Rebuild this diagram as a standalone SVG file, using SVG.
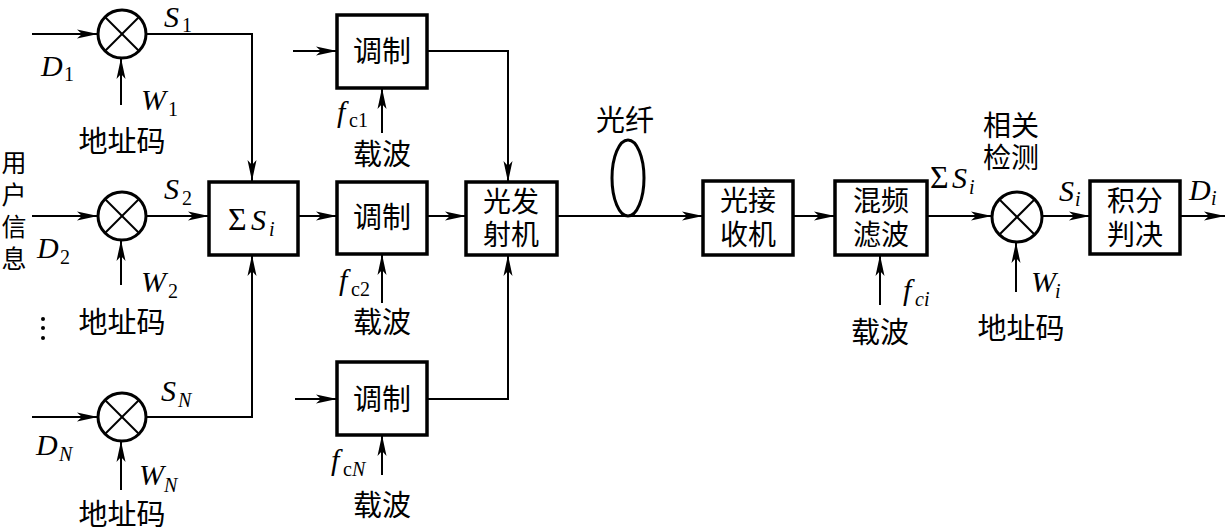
<svg xmlns="http://www.w3.org/2000/svg" width="1226" height="531" viewBox="0 0 1226 531">
<style>
.box{fill:#fff;stroke:#000;stroke-width:3.5}
.mul{fill:#fff;stroke:#000;stroke-width:3}
.x{stroke:#000;stroke-width:2}
.ar{fill:none;stroke:#000;stroke-width:2;marker-end:url(#ah)}
.cn{font-family:"Noto Sans CJK SC","Noto Sans",sans-serif;font-size:29px;fill:#000;text-anchor:middle}
.c2{font-family:"Noto Sans CJK SC","Noto Sans",sans-serif;font-size:28px;fill:#000;text-anchor:middle}
.it{font-family:"Liberation Serif",serif;font-style:italic;font-size:30px;fill:#000}
.sb{font-family:"Liberation Serif",serif;font-size:20px;fill:#000}
.si{font-family:"Liberation Serif",serif;font-style:italic;font-size:20px;fill:#000}
.sg{font-family:"Liberation Serif",serif;font-size:32px;fill:#000}
</style>
<defs>
<marker id="ah" markerUnits="userSpaceOnUse" markerWidth="22" markerHeight="10" viewBox="0 -5 22 10" refX="21" refY="0" orient="auto">
<path d="M0,-4.5 L21,0 L0,4.5 L5,0 z" fill="#000"/>
</marker>
</defs>

<g id="connectors">
<line class="ar" x1="32" y1="34" x2="98" y2="34"/>
<polyline class="ar" points="146,34 252,34 252,181"/>
<line class="ar" x1="121" y1="105" x2="121" y2="58"/>
<line class="ar" x1="32" y1="216" x2="98" y2="216"/>
<line class="ar" x1="146" y1="216" x2="209" y2="216"/>
<line class="ar" x1="121" y1="285" x2="121" y2="240"/>
<line class="ar" x1="32" y1="417" x2="98" y2="417"/>
<polyline class="ar" points="146,417 252,417 252,255"/>
<line class="ar" x1="121" y1="490" x2="121" y2="441"/>
<line class="ar" x1="293" y1="51" x2="337" y2="51"/>
<polyline class="ar" points="427,51 508,51 508,182"/>
<line class="ar" x1="382" y1="133" x2="382" y2="88"/>
<line class="ar" x1="298" y1="216" x2="337" y2="216"/>
<line class="ar" x1="427" y1="216" x2="466" y2="216"/>
<line class="ar" x1="382" y1="303" x2="382" y2="254"/>
<line class="ar" x1="295" y1="399" x2="337" y2="399"/>
<polyline class="ar" points="427,399 508,399 508,255"/>
<line class="ar" x1="382" y1="475" x2="382" y2="435"/>
<line class="ar" x1="557" y1="216" x2="703" y2="216"/>
<line class="ar" x1="793" y1="216" x2="835" y2="216"/>
<line class="ar" x1="880" y1="305" x2="880" y2="255"/>
<line class="ar" x1="927" y1="216" x2="992" y2="216"/>
<line class="ar" x1="1016" y1="292" x2="1016" y2="242"/>
<line class="ar" x1="1042" y1="216" x2="1090" y2="216"/>
<line class="ar" x1="1180" y1="216" x2="1225" y2="216"/>
</g>

<g id="mult1">
<circle class="mul" cx="122" cy="34" r="24"/>
<line class="x" x1="105" y1="17" x2="139" y2="51"/><line class="x" x1="139" y1="17" x2="105" y2="51"/>
<text class="it" x="41" y="76">D</text><text class="sb" x="64" y="81">1</text>
<text class="it" x="164" y="27">S</text><text class="sb" x="182" y="32">1</text>
<text class="it" x="141" y="110">W</text><text class="sb" x="168" y="116">1</text>
<text class="cn" x="122" y="152">地址码</text>
</g>

<g id="mult2">
<circle class="mul" cx="122" cy="216" r="24"/>
<line class="x" x1="105" y1="199" x2="139" y2="233"/><line class="x" x1="139" y1="199" x2="105" y2="233"/>
<text class="it" x="37" y="258">D</text><text class="sb" x="60" y="264">2</text>
<text class="it" x="164" y="199">S</text><text class="sb" x="182" y="205">2</text>
<text class="it" x="141" y="292">W</text><text class="sb" x="168" y="298">2</text>
<text class="cn" x="122" y="333">地址码</text>
</g>

<g id="userinfo">
<text x="14" y="150" style="font-family:'Noto Sans CJK SC','Noto Sans',sans-serif;font-size:25px;writing-mode:vertical-rl;letter-spacing:7px" fill="#000">用户信息</text>
<circle cx="43" cy="319" r="2" fill="#000"/>
<circle cx="43" cy="328" r="2" fill="#000"/>
<circle cx="43" cy="338" r="2" fill="#000"/>
</g>

<g id="multN">
<circle class="mul" cx="122" cy="417" r="24"/>
<line class="x" x1="105" y1="400" x2="139" y2="434"/><line class="x" x1="139" y1="400" x2="105" y2="434"/>
<text class="it" x="36" y="455">D</text><text class="si" x="59" y="461">N</text>
<text class="it" x="161" y="401">S</text><text class="si" x="178" y="407">N</text>
<text class="it" x="139" y="485">W</text><text class="si" x="164" y="492">N</text>
<text class="cn" x="122" y="525">地址码</text>
</g>

<g id="sum">
<rect class="box" x="209" y="182" width="89" height="73"/>
<text class="sg" x="228" y="230">Σ</text><text class="it" x="251" y="230">S</text><text class="si" x="269" y="236">i</text>
</g>

<g id="mod1">
<rect class="box" x="337" y="15" width="90" height="73"/>
<text class="cn" x="382" y="62">调制</text>
<text class="it" x="337" y="122">f</text><text class="sb" x="349" y="127">c1</text>
<text class="cn" x="382" y="165">载波</text>
</g>

<g id="mod2">
<rect class="box" x="337" y="182" width="90" height="72"/>
<text class="cn" x="382" y="228">调制</text>
<text class="it" x="339" y="290">f</text><text class="sb" x="351" y="296">c2</text>
<text class="cn" x="382" y="333">载波</text>
</g>

<g id="modN">
<rect class="box" x="337" y="362" width="90" height="73"/>
<text class="cn" x="382" y="410">调制</text>
<text class="it" x="331" y="470">f</text><text class="sb" x="343" y="476">c</text><text class="si" x="352" y="476">N</text>
<text class="cn" x="382" y="516">载波</text>
</g>

<g id="transmitter">
<rect class="box" x="466" y="182" width="91" height="73"/>
<text class="c2"><tspan x="511" y="212">光发</tspan><tspan x="511" y="245">射机</tspan></text>
</g>

<g id="fiber">
<ellipse cx="628" cy="178" rx="16" ry="38" fill="none" stroke="#000" stroke-width="3"/>
<text class="cn" x="625" y="131">光纤</text>
</g>

<g id="receiver">
<rect class="box" x="703" y="181" width="90" height="74"/>
<text class="c2"><tspan x="748" y="211">光接</tspan><tspan x="748" y="245">收机</tspan></text>
</g>

<g id="mixer">
<rect class="box" x="835" y="181" width="92" height="74"/>
<text class="c2"><tspan x="881" y="211">混频</tspan><tspan x="881" y="245">滤波</tspan></text>
<text class="it" x="903" y="300">f</text><text class="si" x="915" y="306">ci</text>
<text class="cn" x="880" y="343">载波</text>
</g>

<g id="detector">
<text class="sg" x="930" y="188">Σ</text><text class="it" x="952" y="188">S</text><text class="si" x="969" y="194">i</text>
<circle class="mul" cx="1017" cy="217" r="25"/>
<line class="x" x1="999" y1="199" x2="1035" y2="235"/><line class="x" x1="1035" y1="199" x2="999" y2="235"/>
<text class="c2"><tspan x="1011" y="136">相关</tspan><tspan x="1011" y="168">检测</tspan></text>
<text class="it" x="1031" y="292">W</text><text class="si" x="1055" y="298">i</text>
<text class="cn" x="1021" y="339">地址码</text>
<text class="it" x="1059" y="201">S</text><text class="si" x="1075" y="206">i</text>
</g>

<g id="decision">
<rect class="box" x="1090" y="181" width="90" height="73"/>
<text class="c2"><tspan x="1135" y="211">积分</tspan><tspan x="1135" y="245">判决</tspan></text>
<text class="it" x="1189" y="200">D</text><text class="si" x="1211" y="205">i</text>
</g>
</svg>
